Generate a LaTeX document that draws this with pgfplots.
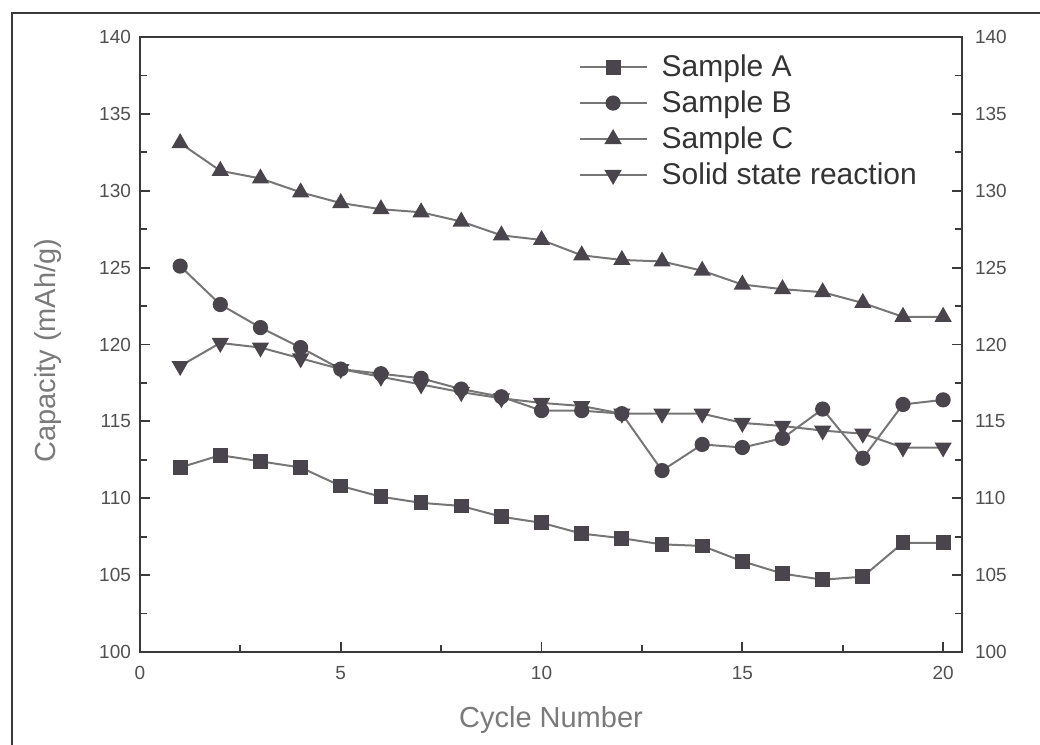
\documentclass[border=0pt]{standalone}
\usepackage{pgfplots}
\pgfplotsset{compat=1.18}
\usepackage{fontspec}
\setmainfont{Liberation Sans}
\definecolor{mk}{HTML}{4A454C}
\definecolor{ln}{HTML}{767676}
\definecolor{ax}{HTML}{3A3A3A}
\definecolor{tk}{HTML}{505050}
\definecolor{lb}{HTML}{7A7A7A}
\definecolor{lg}{HTML}{333333}
\pgfplotsset{
  ser/.style={color=ln, line width=1pt, mark options={draw=mk, fill=mk, solid}},
}
\begin{document}
\begin{tikzpicture}
\useasboundingbox (0,0) rectangle (520pt,372.5pt);
\draw[ax, line width=1.2pt] (530pt,366pt) -- (6pt,366pt) -- (6pt,-5pt);
\begin{axis}[
  at={(70pt,46.5pt)}, anchor=south west,
  scale only axis, width=411pt, height=307.5pt,
  xmin=0, xmax=20.47, ymin=100, ymax=140,
  xtick={0,5,...,20}, ytick={100,105,...,140},
  minor x tick num=1, minor y tick num=1,
  tick align=inside, xtick pos=bottom, ytick pos=both,
  yticklabel pos=left,
  major tick length=5pt, minor tick length=3.5pt,
  axis line style={ax, line width=1pt},
  every tick/.style={ax, line width=0.9pt},
  /pgf/number format/assume math mode=true,
  tick label style={font=\fontsize{9.5}{11}\selectfont, text=tk},
  xticklabel style={yshift=-3.5pt},
  yticklabel style={xshift=-1pt},
  xlabel={Cycle Number}, ylabel={Capacity (mAh/g)},
  label style={font=\fontsize{14.5}{16}\selectfont, text=lb},
  xlabel style={at={(axis description cs:0.5,-0.1106)}, anchor=center},
  ylabel style={at={(axis description cs:-0.112,0.49)}, anchor=center},
  legend style={at={(axis description cs:0.533,0.975)}, anchor=north west,
    draw=none, fill=none, inner sep=0pt, row sep=3.6pt, column sep=6pt,
    font=\fontsize{15}{17}\selectfont, text=lg,
    nodes={inner sep=1pt}},
  legend cell align=left,
  legend image code/.code={\draw[mark repeat=2,mark phase=2] plot coordinates {(0cm,0cm)(0.59cm,0cm)(1.18cm,0cm)};},
]
\addplot[ser, mark=square*, mark size=3.2pt] coordinates {
(1,112.0)(2,112.8)(3,112.4)(4,112.0)(5,110.8)(6,110.1)(7,109.7)(8,109.5)(9,108.8)(10,108.4)
(11,107.7)(12,107.4)(13,107.0)(14,106.9)(15,105.9)(16,105.1)(17,104.7)(18,104.9)(19,107.1)(20,107.1)};
\addlegendentry{Sample A}
\addplot[ser, mark=*, mark size=3.3pt] coordinates {
(1,125.1)(2,122.6)(3,121.1)(4,119.8)(5,118.4)(6,118.1)(7,117.8)(8,117.1)(9,116.6)(10,115.7)
(11,115.7)(12,115.5)(13,111.8)(14,113.5)(15,113.3)(16,113.9)(17,115.8)(18,112.6)(19,116.1)(20,116.4)};
\addlegendentry{Sample B}
\addplot[ser, mark=triangle*, mark size=4pt] coordinates {
(1,133.1)(2,131.3)(3,130.8)(4,129.9)(5,129.2)(6,128.8)(7,128.6)(8,128.0)(9,127.1)(10,126.8)
(11,125.8)(12,125.5)(13,125.4)(14,124.8)(15,123.9)(16,123.6)(17,123.4)(18,122.7)(19,121.8)(20,121.8)};
\addlegendentry{Sample C}
\addplot[ser, mark=triangle*, mark size=4pt, mark options={draw=mk, fill=mk, solid, rotate=180}] coordinates {
(1,118.6)(2,120.1)(3,119.8)(4,119.1)(5,118.4)(6,117.9)(7,117.4)(8,116.9)(9,116.5)(10,116.2)
(11,116.0)(12,115.5)(13,115.5)(14,115.5)(15,114.9)(16,114.7)(17,114.4)(18,114.2)(19,113.3)(20,113.3)};
\addlegendentry{Solid state reaction}
\end{axis}
\begin{axis}[
  at={(70pt,46.5pt)}, anchor=south west,
  scale only axis, width=411pt, height=307.5pt,
  xmin=0, xmax=20.47, ymin=100, ymax=140,
  ytick={100,105,...,140}, hide x axis,
  axis y line*=right, axis line style={draw=none},
  major tick length=0pt, minor tick length=0pt,
  /pgf/number format/assume math mode=true,
  yticklabel style={font=\fontsize{9.5}{11}\selectfont, text=tk, xshift=3pt},
]
\addplot[draw=none] coordinates {(0,100)};
\end{axis}
\end{tikzpicture}
\end{document}
